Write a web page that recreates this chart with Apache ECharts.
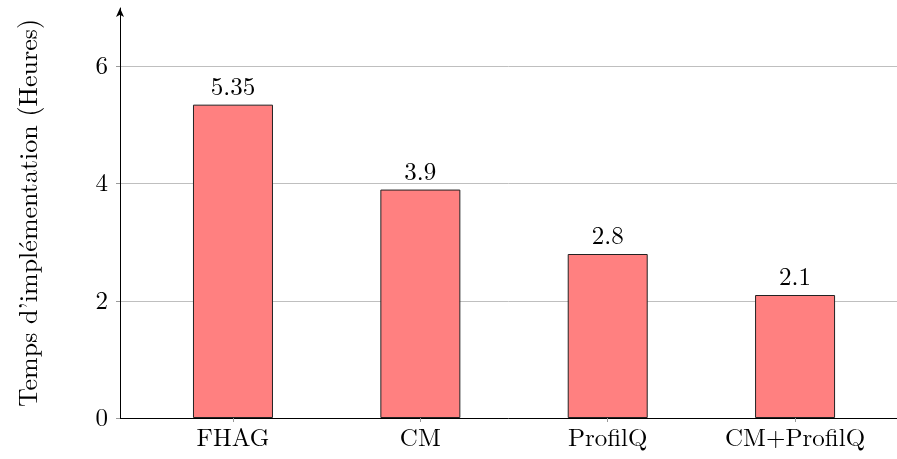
<!DOCTYPE html>
<html>
<head>
<meta charset="utf-8">
<script src="https://cdn.jsdelivr.net/npm/echarts@6/dist/echarts.min.js"></script>
<style>html,body{margin:0;padding:0;background:#fff}#c{width:897px;height:459px}</style>
</head>
<body>
<div id="c"></div>
<script>
const categories = ['FHAG', 'CM', 'ProfilQ', 'CM+ProfilQ'];
const values = [5.35, 3.9, 2.8, 2.1];
const yTicks = [0, 2, 4, 6];
const yTitle = 'Temps d\u2019implémentation (Heures)';

const FONT = '"Latin Modern Roman","CMU Serif","Liberation Serif","DejaVu Serif",serif';
const chart = echarts.init(document.getElementById('c'), null, {renderer: 'canvas'});
chart.setOption({
  animation: false,
  backgroundColor: '#fff',
  grid: {left: 120, right: 0, top: 8, bottom: 41, containLabel: false, outerBoundsMode: 'none'},
  xAxis: {
    type: 'value',
    min: -0.603,
    max: 3.544,
    axisLine: {show: true, lineStyle: {color: '#000', width: 1}},
    axisTick: {show: true, customValues: categories.map((c, i) => i), length: 4, inside: false, lineStyle: {color: '#999'}},
    axisLabel: {customValues: categories.map((c, i) => i), formatter: v => categories[Math.round(v)] || '', fontFamily: FONT, fontSize: 25, color: '#000', margin: 8},
    splitLine: {show: false}
  },
  yAxis: {
    type: 'value',
    min: 0,
    max: 7,
    name: yTitle,
    nameLocation: 'middle',
    nameRotate: 90,
    nameGap: 78,
    nameTextStyle: {fontFamily: FONT, fontSize: 26, color: '#000'},
    axisLine: {show: true, onZero: false, symbol: ['none', 'arrow'], symbolSize: [6, 9], lineStyle: {color: '#000', width: 1}},
    axisTick: {show: true, customValues: yTicks, length: 4, lineStyle: {color: '#999'}},
    axisLabel: {customValues: yTicks, fontFamily: FONT, fontSize: 25, color: '#000', margin: 12},
    splitLine: {show: false}
  },
  series: [{
    type: 'bar',
    data: values.map((v, i) => [i, v]),
    barWidth: 80,
    itemStyle: {color: '#ff8080', borderColor: '#222', borderWidth: 1},
    label: {show: true, position: 'top', distance: 5, fontFamily: FONT, fontSize: 25, color: '#000', formatter: p => String(p.value[1])},
    markLine: {
      silent: true,
      symbol: 'none',
      label: {show: false},
      lineStyle: {color: '#bfbfbf', type: 'solid', width: 1},
      data: yTicks.filter(t => t > 0).map(t => ({yAxis: t})),
      z: 0
    },
    z: 2
  }]
});
</script>
</body>
</html>
